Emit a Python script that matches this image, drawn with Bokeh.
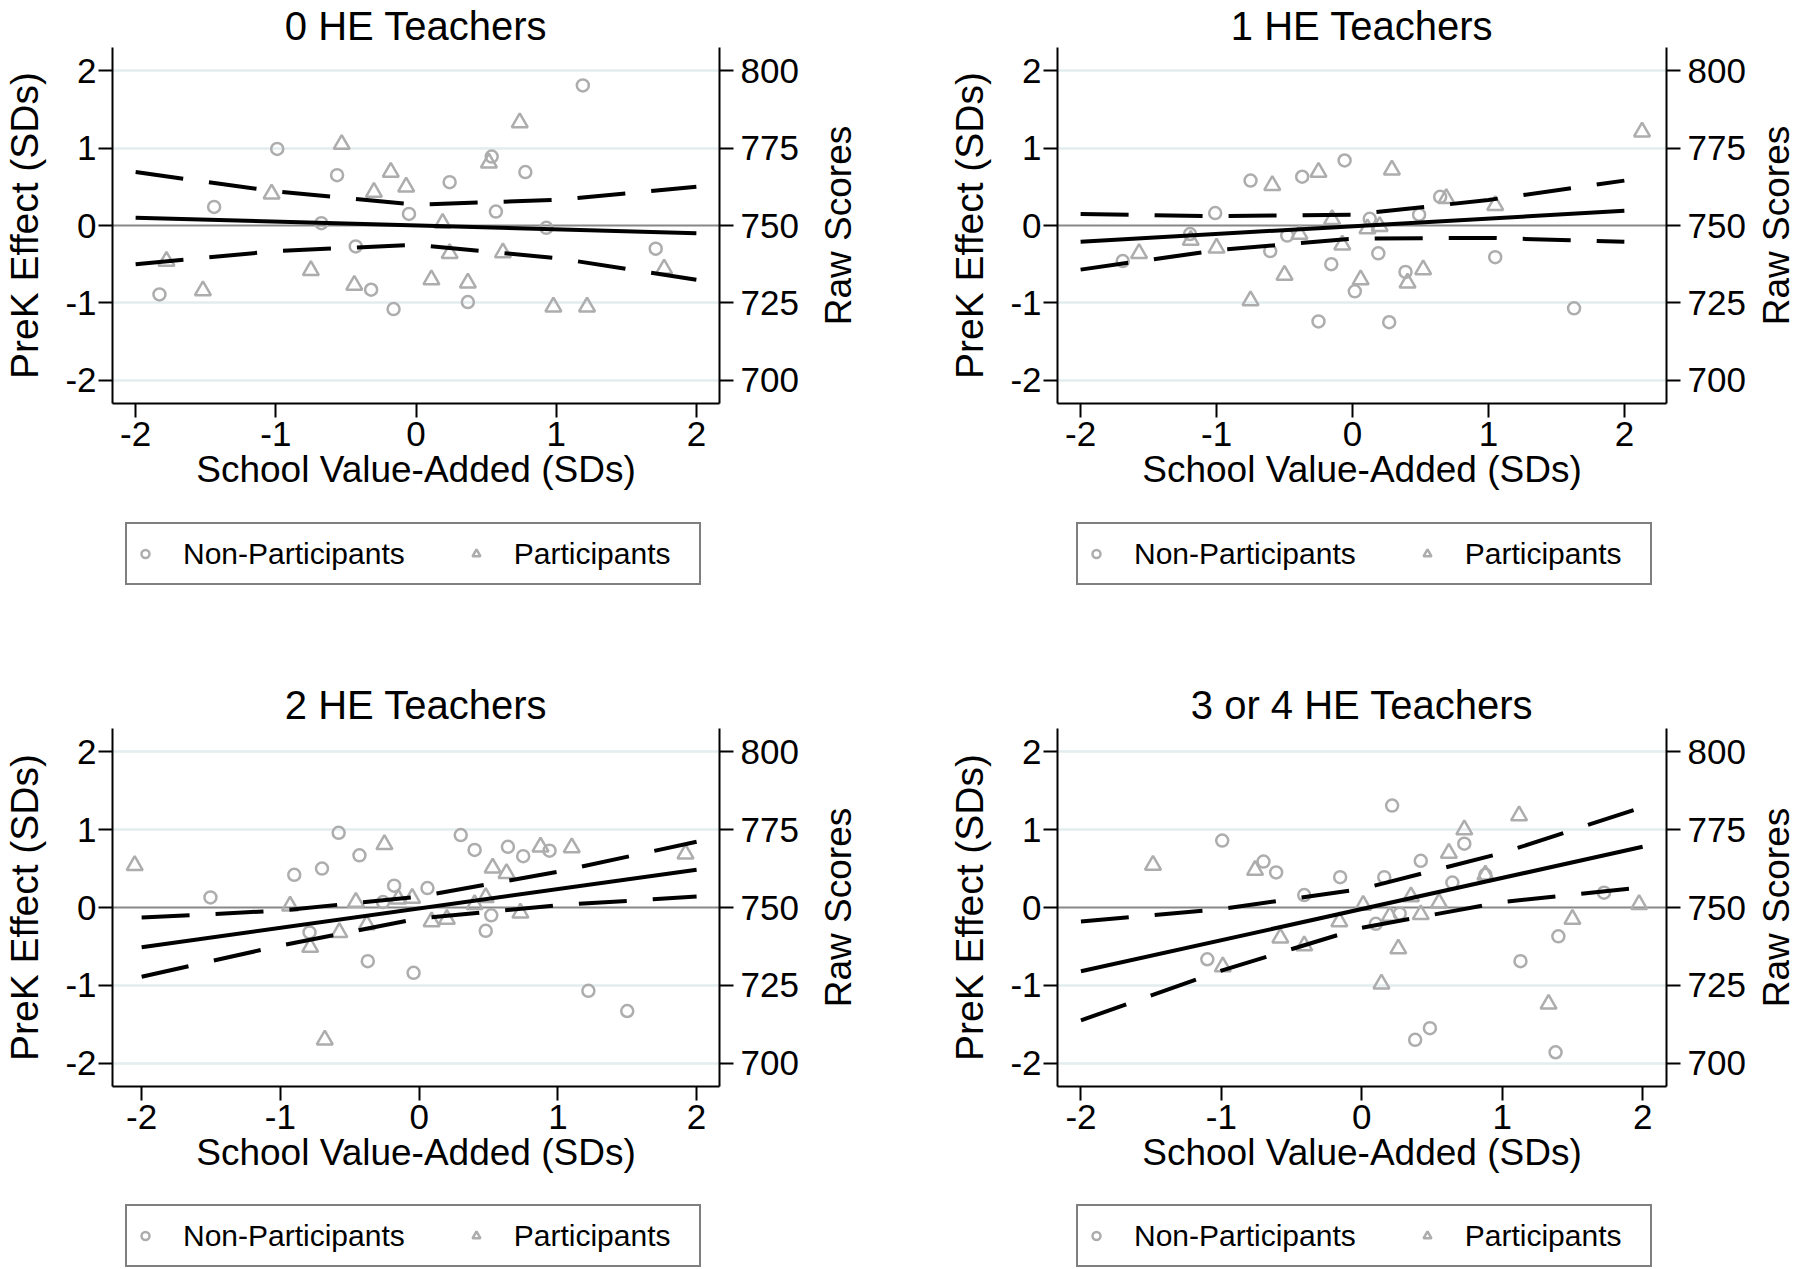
from bokeh.plotting import figure
from bokeh.models import (Range1d, LinearAxis, FixedTicker, Span, Legend, LegendItem)
from bokeh.layouts import row, column
from bokeh.embed import file_html
from bokeh.resources import INLINE

FONT = "Liberation Sans"

# ---------------- data ----------------
titles = ["0 HE Teachers", "1 HE Teachers", "2 HE Teachers", "3 or 4 HE Teachers"]
x_ticks = [-2, -1, 0, 1, 2]
y_ticks = [-2, -1, 0, 1, 2]
raw_ticks = [700, 725, 750, 775, 800]
x_ranges = [(-2.165, 2.165), (-2.17, 2.31), (-2.21, 2.165), (-2.167, 2.17)]
y_range = (-2.3, 2.3)
fit_x = [-2, 2]
ci_x = [-2, -1, 0, 1, 2]
legend_labels = ["Non-Participants", "Participants"]

# Panel: 0 HE Teachers
he0_non_x = [-1.83, -1.44, -0.99, -0.675, -0.563, -0.43, -0.32, -0.16, -0.05, 0.24, 0.54, 0.57, 0.37, 0.78, 0.93, 1.19, 1.71]
he0_non_y = [-0.89, 0.24, 0.99, 0.03, 0.65, -0.27, -0.83, -1.08, 0.15, 0.56, 0.89, 0.18, -0.99, 0.69, -0.03, 1.81, -0.30]
he0_par_x = [-1.78, -1.52, -1.03, -0.75, -0.53, -0.44, -0.30, -0.18, -0.07, 0.11, 0.19, 0.24, 0.37, 0.52, 0.62, 0.74, 0.98, 1.22, 1.77]
he0_par_y = [-0.46, -0.84, 0.41, -0.58, 1.05, -0.77, 0.43, 0.69, 0.50, -0.70, 0.03, -0.36, -0.74, 0.81, -0.35, 1.33, -1.05, -1.05, -0.56]
he0_fit = [0.10, -0.10]
he0_upper = [0.69, 0.44, 0.27, 0.33, 0.50]
he0_lower = [-0.50, -0.33, -0.25, -0.42, -0.70]

# Panel: 1 HE Teachers
he1_non_x = [-1.69, -1.195, -1.01, -0.75, -0.605, -0.48, -0.37, -0.25, -0.156, -0.058, 0.017, 0.127, 0.19, 0.27, 0.39, 0.49, 0.645, 1.05, 1.63]
he1_non_y = [-0.46, -0.11, 0.16, 0.58, -0.33, -0.13, 0.63, -1.24, -0.50, 0.84, -0.85, 0.086, -0.36, -1.25, -0.60, 0.14, 0.37, -0.41, -1.07]
he1_par_x = [-1.57, -1.19, -1.00, -0.75, -0.59, -0.50, -0.39, -0.25, -0.15, -0.075, 0.06, 0.11, 0.20, 0.29, 0.405, 0.52, 0.69, 1.05, 2.13]
he1_par_y = [-0.36, -0.19, -0.29, -0.97, 0.52, -0.64, -0.11, 0.69, 0.08, -0.25, -0.70, -0.04, -0.01, 0.72, -0.74, -0.57, 0.35, 0.26, 1.21]
he1_fit = [-0.21, 0.19]
he1_upper = [0.15, 0.12, 0.14, 0.33, 0.58]
he1_lower = [-0.57, -0.32, -0.17, -0.16, -0.21]

# Panel: 2 HE Teachers
he2_non_x = [-1.504, -0.90, -0.79, -0.70, -0.58, -0.43, -0.37, -0.26, -0.18, -0.04, 0.06, 0.30, 0.40, 0.48, 0.52, 0.64, 0.75, 0.94, 1.22, 1.50]
he2_non_y = [0.13, 0.42, -0.32, 0.50, 0.96, 0.67, -0.69, 0.07, 0.28, -0.84, 0.25, 0.93, 0.74, -0.30, -0.10, 0.78, 0.66, 0.73, -1.07, -1.33]
he2_par_x = [-2.05, -0.93, -0.785, -0.68, -0.575, -0.456, -0.377, -0.25, -0.15, -0.05, 0.09, 0.20, 0.40, 0.48, 0.53, 0.63, 0.73, 0.875, 1.10, 1.92]
he2_par_y = [0.54, 0.02, -0.51, -1.70, -0.32, 0.07, -0.22, 0.81, 0.11, 0.12, -0.18, -0.15, 0.04, 0.13, 0.51, 0.44, -0.07, 0.78, 0.77, 0.69]
he2_fit = [-0.51, 0.485]
he2_upper = [-0.13, -0.04, 0.14, 0.46, 0.845]
he2_lower = [-0.89, -0.49, -0.14, 0.03, 0.14]

# Panel: 3 or 4 HE Teachers
he3_non_x = [-1.10, -0.994, -0.70, -0.61, -0.41, -0.154, 0.10, 0.16, 0.216, 0.27, 0.38, 0.42, 0.485, 0.645, 0.73, 0.88, 1.13, 1.40, 1.38, 1.725]
he3_non_y = [-0.665, 0.86, 0.59, 0.45, 0.16, 0.39, -0.21, 0.39, 1.31, -0.08, -1.70, 0.60, -1.55, 0.32, 0.82, 0.42, -0.69, -0.37, -1.86, 0.19]
he3_par_x = [-1.487, -0.99, -0.76, -0.58, -0.41, -0.16, 0.01, 0.14, 0.20, 0.26, 0.35, 0.42, 0.55, 0.62, 0.73, 0.88, 1.12, 1.33, 1.50, 1.975]
he3_par_y = [0.545, -0.76, 0.48, -0.39, -0.49, -0.18, 0.03, -0.98, -0.11, -0.53, 0.14, -0.09, 0.06, 0.70, 1.00, 0.42, 1.18, -1.24, -0.15, 0.04]
he3_fit = [-0.82, 0.78]
he3_upper = [-0.18, -0.02, 0.24, 0.70, 1.29]
he3_lower = [-1.45, -0.81, -0.26, 0.07, 0.26]

panels = [
    (he0_non_x, he0_non_y, he0_par_x, he0_par_y, he0_fit, he0_upper, he0_lower),
    (he1_non_x, he1_non_y, he1_par_x, he1_par_y, he1_fit, he1_upper, he1_lower),
    (he2_non_x, he2_non_y, he2_par_x, he2_par_y, he2_fit, he2_upper, he2_lower),
    (he3_non_x, he3_non_y, he3_par_x, he3_par_y, he3_fit, he3_upper, he3_lower),
]

# ---------------- styling ----------------
MARKER = "#adadad"
GRID = "#e3edf0"
ZERO = "#888888"
CIRCLE = dict(marker="circle", size=12, fill_color=None, line_color=MARKER, line_width=2.5)
TRIANGLE = dict(marker="triangle", size=16, fill_color=None, line_color=MARKER, line_width=2.5)

# columns: (main width, min_left, min_right, label-fig width, label-fig min_left)
cols = [(801, 108, 82, 99, 57), (848, 157, 79, 52, 48)]
# rows: (min_top, frame_h, min_bottom, title_standoff, legend-fig height, legend y)
rows_cfg = [(47, 356, 110, 0, 127, 55), (88, 358, 100, 3, 82, 1)]
legend_x = [125, 176]


def style_axis(ax, label=None, label_size="37px"):
    ax.major_tick_out = 14
    ax.major_tick_in = 0
    ax.minor_tick_out = 0
    ax.minor_tick_in = 0
    ax.axis_line_width = 2
    ax.axis_line_color = "black"
    ax.major_tick_line_width = 2
    ax.major_tick_line_color = "black"
    ax.major_label_text_font = FONT
    ax.major_label_text_font_size = "35px"
    ax.major_label_text_color = "black"
    if label is not None:
        ax.axis_label = label
        ax.axis_label_text_font = FONT
        ax.axis_label_text_font_size = label_size
        ax.axis_label_text_font_style = "normal"
        ax.axis_label_text_color = "black"


hyphen_labels = {-2: "-2", -1: "-1"}


def main_panel(i):
    nx, ny, px, py, fit, up, lo = panels[i]
    w, ml, mr, _, _ = cols[i % 2]
    mt, fh, mb, tso, _, _ = rows_cfg[i // 2]
    xr = x_ranges[i]
    p = figure(width=w, height=mt + fh + mb,
               x_range=Range1d(*xr), y_range=Range1d(*y_range),
               output_backend="svg", toolbar_location=None,
               min_border_left=ml, min_border_right=mr,
               min_border_top=mt, min_border_bottom=mb,
               background_fill_color="white", border_fill_color="white")
    p.outline_line_color = None
    p.extra_y_ranges = {"raw": Range1d(750 + 25 * y_range[0], 750 + 25 * y_range[1])}

    p.title.text = titles[i]
    p.title.align = "center"
    p.title.text_font = FONT
    p.title.text_font_size = "40px"
    p.title.text_font_style = "normal"
    p.title.text_color = "black"
    p.title.standoff = tso

    p.xgrid.visible = False
    p.ygrid.ticker = FixedTicker(ticks=[t for t in y_ticks if t != 0])
    p.ygrid.grid_line_color = GRID
    p.ygrid.grid_line_width = 2.5
    p.add_layout(Span(location=0, dimension="width", line_color=ZERO,
                      line_width=2, level="underlay"))

    p.xaxis.ticker = FixedTicker(ticks=x_ticks)
    p.yaxis.ticker = FixedTicker(ticks=y_ticks)
    style_axis(p.xaxis[0], "School Value-Added (SDs)", "37px")
    style_axis(p.yaxis[0], "PreK Effect (SDs)", "39px")
    p.xaxis[0].major_label_overrides = hyphen_labels
    p.yaxis[0].major_label_overrides = hyphen_labels
    p.xaxis[0].major_label_standoff = 4
    p.xaxis[0].axis_label_standoff = 0
    p.yaxis[0].major_label_standoff = 2
    p.yaxis[0].axis_label_standoff = 16

    ra = LinearAxis(y_range_name="raw", ticker=FixedTicker(ticks=raw_ticks))
    style_axis(ra)
    ra.major_label_standoff = 7
    p.add_layout(ra, "right")

    p.scatter(nx, ny, **CIRCLE)
    p.scatter(px, py, **TRIANGLE)
    p.line(fit_x, fit, line_color="black", line_width=4)
    p.line(ci_x, up, line_color="black", line_width=4, line_dash="48 26")
    p.line(ci_x, lo, line_color="black", line_width=4, line_dash="48 26")
    return p


def raw_label_panel(i):
    _, _, _, lw, lml = cols[i % 2]
    mt, fh, mb, _, _, _ = rows_cfg[i // 2]
    p = figure(width=lw, height=mt + fh + mb, x_range=Range1d(0, 1),
               y_range=Range1d(0, 1), x_axis_location=None,
               output_backend="svg", toolbar_location=None,
               min_border_left=lml, min_border_right=0,
               min_border_top=mt, min_border_bottom=mb,
               background_fill_color="white", border_fill_color="white")
    p.outline_line_color = None
    p.grid.visible = False
    ax = p.yaxis[0]
    ax.ticker = FixedTicker(ticks=[])
    ax.axis_line_color = None
    ax.major_tick_out = 0
    ax.major_tick_in = 0
    ax.minor_tick_out = 0
    ax.minor_tick_in = 0
    ax.major_label_standoff = 0
    ax.axis_label = "Raw Scores"
    ax.axis_label_standoff = 0
    ax.axis_label_text_font = FONT
    ax.axis_label_text_font_size = "37px"
    ax.axis_label_text_font_style = "normal"
    ax.axis_label_text_color = "black"
    return p


def legend_panel(i):
    _, _, _, _, lh, ly = rows_cfg[i // 2]
    p = figure(width=900, height=lh, x_range=Range1d(0, 1), y_range=Range1d(0, 1),
               x_axis_location=None, y_axis_location=None,
               output_backend="svg", toolbar_location=None,
               min_border_left=0, min_border_right=0,
               min_border_top=0, min_border_bottom=0,
               background_fill_color="white", border_fill_color="white")
    p.outline_line_color = None
    p.grid.visible = False
    # legend-only renderers: one missing (NaN) point each, so nothing is plotted
    r_non = p.scatter([float("nan")], [float("nan")], **CIRCLE)
    r_par = p.scatter([float("nan")], [float("nan")], **TRIANGLE)
    legend = Legend(items=[LegendItem(label=legend_labels[0], renderers=[r_non]),
                           LegendItem(label=legend_labels[1], renderers=[r_par])],
                    orientation="horizontal", location=(legend_x[i % 2], ly))
    legend.label_text_font = FONT
    legend.label_text_font_size = "30px"
    legend.label_text_color = "black"
    legend.glyph_width = 20
    legend.glyph_height = 43
    legend.label_standoff = 28
    legend.spacing = 61
    legend.padding = 8
    legend.margin = 0
    legend.label_width = 177
    legend.border_line_color = "black"
    legend.border_line_width = 2
    legend.background_fill_color = "white"
    legend.background_fill_alpha = 1
    p.add_layout(legend, "center")
    return p


rows_out = []
for r in range(2):
    a, b = 2 * r, 2 * r + 1
    rows_out.append(row(main_panel(a), raw_label_panel(a), main_panel(b), raw_label_panel(b)))
    rows_out.append(row(legend_panel(a), legend_panel(b)))

page = column(*rows_out)
open("out.html", "w").write(file_html(page, INLINE))
